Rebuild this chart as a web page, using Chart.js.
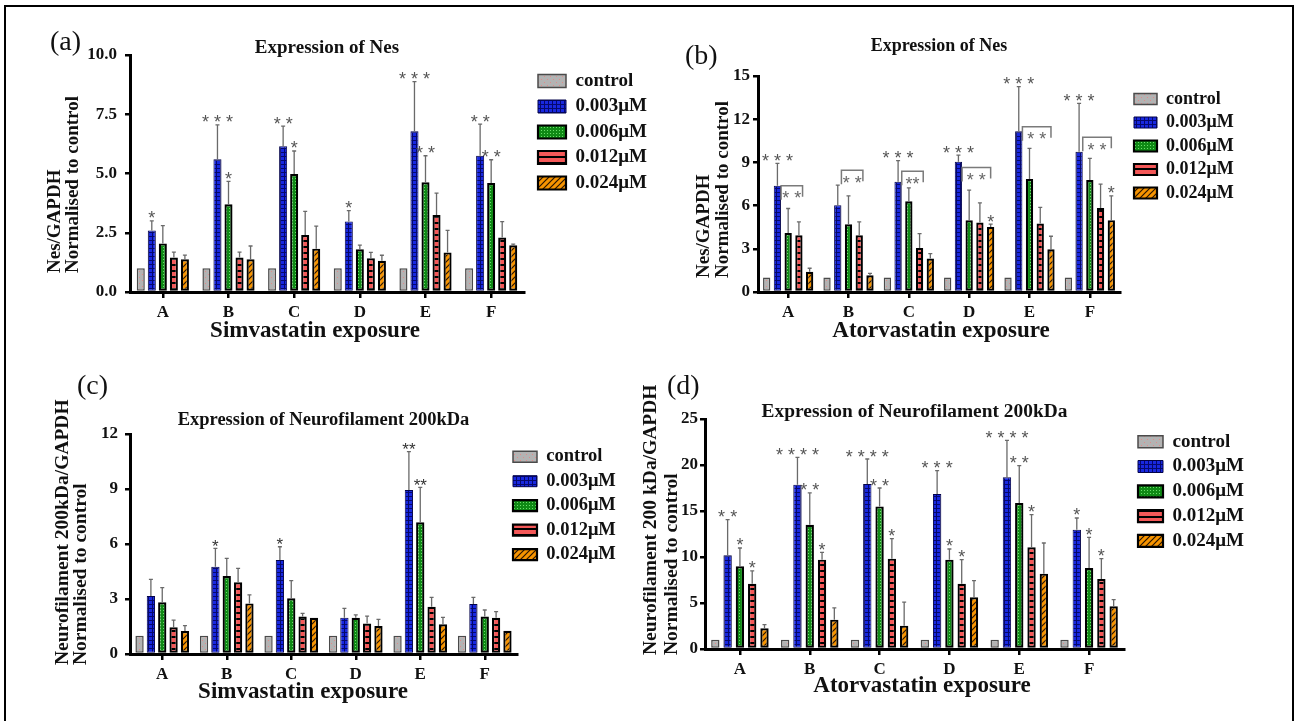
<!DOCTYPE html>
<html><head><meta charset="utf-8">
<script src="https://cdn.jsdelivr.net/npm/chart.js@4.4.1/dist/chart.umd.min.js"></script>
<style>
html,body{margin:0;padding:0;background:#fff;}
#wrap{position:relative;width:1295px;height:721px;overflow:hidden;background:#fff;}
#frame{position:absolute;left:4px;top:5px;width:1290px;height:760px;border:2.5px solid #000;box-sizing:border-box;}
canvas{position:absolute;left:0;top:0;}
</style></head><body>
<div id="wrap"><div id="frame"></div>
<canvas id="ca" width="1295" height="721"></canvas>
<canvas id="cb" width="1295" height="721"></canvas>
<canvas id="cc" width="1295" height="721"></canvas>
<canvas id="cd" width="1295" height="721"></canvas>
</div>
<script>
// ---------- DATA ----------
const categories = ['A','B','C','D','E','F'];
const seriesNames = ['control','0.003μM','0.006μM','0.012μM','0.024μM'];
const none = ['','','','','',''];
const zeroErr = [0,0,0,0,0,0];

// (a) Simvastatin – Nes
const simNesTicks = ['0.0','2.5','5.0','7.5','10.0'];
const simNesControl = [1,1,1,1,1,1];
const simNes003 = [2.6,5.6,6.15,2.97,6.78,5.75];
const simNes006 = [2.05,3.7,4.98,1.8,4.63,4.6];
const simNes012 = [1.46,1.46,2.4,1.42,3.25,2.3];
const simNes024 = [1.38,1.38,1.83,1.32,1.67,1.97];
const simNes003Err = [0.4,1.45,0.85,0.46,2.1,1.33];
const simNes006Err = [0.75,0.97,0.97,0.18,1.12,0.98];
const simNes012Err = [0.22,0.22,1.0,0.25,0.92,0.67];
const simNes024Err = [0.18,0.56,0.95,0.23,0.93,0.05];
const simNesStars003 = ['*','* * *','* *','*','* * *','* *'];
const simNesStars006 = ['','*','*','','* *','* *'];

// (b) Atorvastatin – Nes
const atorNesTicks = ['0','3','6','9','12','15'];
const atorNesControl = [1,1,1,1,1,1];
const atorNes003 = [7.37,6.03,7.65,9.04,11.17,9.74];
const atorNes006 = [4.1,4.71,6.3,4.99,7.84,7.77];
const atorNes012 = [3.94,3.94,3.06,4.82,4.75,5.84];
const atorNes024 = [1.4,1.16,2.32,4.52,2.97,4.99];
const atorNes003Err = [1.56,1.39,1.48,0.46,3.09,3.36];
const atorNes006Err = [1.7,1.97,0.93,2.08,2.13,1.51];
const atorNes012Err = [0.93,0.93,1.0,1.37,1.12,1.65];
const atorNes024Err = [0.25,0.14,0.35,0.19,0.9,1.69];
const atorNesStars003 = ['* * *','','* * *','* * *','* * *','* * *'];
const atorNesStars024 = ['','','','*','','*'];
const atorNesBracketLevel = [7.37,8.46,8.39,8.65,11.47,10.74];
const atorNesBracketTo = [3,3,3,4,4,4];
const atorNesBracketStars = ['* *','* *','**','* *','* *','* *'];

// (c) Simvastatin – Neurofilament 200kDa
const simNfTicks = ['0','3','6','9','12'];
const simNfControl = [1,1,1,1,1,1];
const simNf003 = [3.16,4.76,5.13,1.98,8.95,2.73];
const simNf006 = [2.82,4.25,3.04,1.98,7.18,2.04];
const simNf012 = [1.46,3.91,2.04,1.67,2.58,1.98];
const simNf024 = [1.25,2.76,1.98,1.53,1.62,1.27];
const simNf003Err = [0.91,1.0,0.72,0.51,2.09,0.36];
const simNf006Err = [0.8,0.97,0.96,0.15,1.91,0.36];
const simNf012Err = [0.39,0.76,0.18,0.4,0.51,0.33];
const simNf024Err = [0.3,0.46,0,0.36,0.38,0];
const simNfStars003 = ['','*','*','','**',''];
const simNfStars006 = ['','','','','**',''];

// (d) Atorvastatin – Neurofilament 200kDa
const atorNfTicks = ['0','5','10','15','20','25'];
const atorNfControl = [1,1,1,1,1,1];
const atorNf003 = [10.2,17.86,17.93,16.85,18.66,12.97];
const atorNf006 = [8.99,13.5,15.5,9.71,15.87,8.8];
const atorNf012 = [7.1,9.71,9.82,7.1,11.05,7.6];
const atorNf024 = [2.25,3.19,2.54,5.62,8.19,4.64];
const atorNf003Err = [3.86,2.97,2.72,2.53,4.02,1.27];
const atorNf006Err = [1.99,3.46,2.0,1.16,4.06,3.34];
const atorNf012Err = [1.4,0.79,2.18,2.61,3.55,2.22];
const atorNf024Err = [0.39,1.27,2.56,1.81,3.33,0.72];
const atorNfStars003 = ['* *','* * * *','* * * *','* * *','* * * *','*'];
const atorNfStars006 = ['*','* *','* *','*','* *','*'];
const atorNfStars012 = ['*','*','*','*','*','*'];

// ---------- STYLE ----------
const SERIF = '"Liberation Serif","Times New Roman",serif';
const SANS = '"Liberation Sans",Arial,sans-serif';
const W = 1295, H = 721, Y_AXIS_W = 60, X_AXIS_H = 40;

function tile(w, h, draw) {
  const c = document.createElement('canvas'); c.width = w; c.height = h;
  draw(c.getContext('2d'), w, h); return c;
}
const tiles = {
  control: tile(6,6,g=>{g.fillStyle='#b3b3b3';g.fillRect(0,0,6,6);g.fillStyle='#e28a8a';g.fillRect(1,1,1,1);g.fillRect(4,4,1,1);}),
  blue: tile(4,4,g=>{g.fillStyle='#1828e0';g.fillRect(0,0,4,4);g.fillStyle='#05086e';g.fillRect(0,0,4,1);g.fillRect(0,0,1,4);}),
  green: tile(3,3,g=>{g.fillStyle='#0f8a15';g.fillRect(0,0,3,3);g.fillStyle='#6ade6a';g.fillRect(1,1,1,1);}),
  red: tile(6,6,g=>{g.fillStyle='#f45858';g.fillRect(0,0,6,6);g.fillStyle='#000';g.fillRect(0,0,6,2);}),
  orange: tile(6,6,g=>{g.fillStyle='#f79400';g.fillRect(0,0,6,6);g.strokeStyle='#2a1500';g.lineWidth=1.2;g.beginPath();
    g.moveTo(0,6);g.lineTo(6,0);g.moveTo(-3,3);g.lineTo(3,-3);g.moveTo(3,9);g.lineTo(9,3);g.stroke();})
};

const panels = [
  { canvasId:'ca', title:'Expression of Nes', label:'(a)', yTitle:['Nes/GAPDH','Normalised to control'], xTitle:'Simvastatin exposure',
    ticks: simNesTicks,
    values:[simNesControl,simNes003,simNes006,simNes012,simNes024],
    errs:[zeroErr,simNes003Err,simNes006Err,simNes012Err,simNes024Err],
    stars:[none,simNesStars003,simNesStars006,none,none], brackets:null,
    geo:{area:{l:130,r:524,t:55,b:292}, titleY:48, titleSize:19, label:{x:50,y:43},
      yT:{xs:[55,73],y0:273,size:19}, xT:{x:315,base:337,size:23},
      legend:{x:538,y:81,font:19,boxW:28,boxH:13,pad:6.5}, tickSize:17, catSize:17, tickPad:8,
      cat:0.84, bar:0.73, starFont:18, starColor:'#555'} },
  { canvasId:'cb', title:'Expression of Nes', label:'(b)', yTitle:['Nes/GAPDH','Normalised to control'], xTitle:'Atorvastatin exposure',
    ticks: atorNesTicks,
    values:[atorNesControl,atorNes003,atorNes006,atorNes012,atorNes024],
    errs:[zeroErr,atorNes003Err,atorNes006Err,atorNes012Err,atorNes024Err],
    stars:[none,atorNesStars003,none,none,atorNesStars024],
    brackets:{level:atorNesBracketLevel,to:atorNesBracketTo,text:atorNesBracketStars},
    geo:{area:{l:758,r:1120,t:76,b:292}, titleY:46, titleSize:18, label:{x:685,y:57},
      yT:{xs:[704,723],y0:278,size:19}, xT:{x:941,base:337,size:23},
      legend:{x:1134,y:99,font:18,boxW:23,boxH:11,pad:5.5}, tickSize:17, catSize:17, tickPad:3,
      cat:0.89, bar:0.68, starFont:18, starColor:'#555'} },
  { canvasId:'cc', title:'Expression of Neurofilament 200kDa', label:'(c)', yTitle:['Neurofilament 200kDa/GAPDH','Normalised to control'], xTitle:'Simvastatin exposure',
    ticks: simNfTicks,
    values:[simNfControl,simNf003,simNf006,simNf012,simNf024],
    errs:[zeroErr,simNf003Err,simNf006Err,simNf012Err,simNf024Err],
    stars:[none,simNfStars003,simNfStars006,none,none], brackets:null,
    geo:{area:{l:130,r:517,t:434,b:654}, titleY:420, titleSize:18.5, label:{x:77,y:387},
      yT:{xs:[63,81],y0:665,size:19.5}, xT:{x:303,base:698,size:23},
      legend:{x:513,y:456.7,font:18.5,boxW:24,boxH:11,pad:6}, tickSize:17, catSize:17, tickPad:7,
      cat:0.88, bar:0.73, starFont:17, starColor:'#333'} },
  { canvasId:'cd', title:'Expression of Neurofilament 200kDa', label:'(d)', yTitle:['Neurofilament 200 kDa/GAPDH','Normalised to control'], xTitle:'Atorvastatin exposure',
    ticks: atorNfTicks,
    values:[atorNfControl,atorNf003,atorNf006,atorNf012,atorNf024],
    errs:[zeroErr,atorNf003Err,atorNf006Err,atorNf012Err,atorNf024Err],
    stars:[none,atorNfStars003,atorNfStars006,atorNfStars012,none], brackets:null,
    geo:{area:{l:705,r:1124,t:419,b:649}, titleY:411.7, titleSize:19.4, label:{x:667,y:387},
      yT:{xs:[651,672],y0:655,size:19.5}, xT:{x:922,base:692,size:23},
      legend:{x:1138,y:441.7,font:19,boxW:25,boxH:12,pad:5.8}, tickSize:17, catSize:17, tickPad:2,
      cat:0.88, bar:0.68, starFont:18, starColor:'#555'} }
];

function buildPanel(p) {
  const canvas = document.getElementById(p.canvasId);
  const ctx = canvas.getContext('2d');
  const g = p.geo;
  const pat = k => ctx.createPattern(tiles[k], 'repeat');
  const styles = [
    {bg:pat('control'), bc:'#4a4a4a', bw:1.5},
    {bg:pat('blue'), bc:'#03034a', bw:1},
    {bg:pat('green'), bc:'#000', bw:2.2},
    {bg:pat('red'), bc:'#000', bw:2.2},
    {bg:pat('orange'), bc:'#000', bw:2.2}
  ];
  const datasets = p.values.map((vals, k) => ({
    label: seriesNames[k], data: vals,
    backgroundColor: styles[k].bg, borderColor: styles[k].bc, borderWidth: styles[k].bw,
    borderSkipped: false, categoryPercentage: g.cat, barPercentage: g.bar
  }));

  const placer = {
    id: 'placer',
    beforeDraw(chart) {
      const ca = chart.chartArea;
      const t = chart.titleBlock;
      if (t) { t.left = ca.left; t.right = ca.right; t.width = ca.right - ca.left;
        t.top = g.titleY - g.titleSize / 2; t.height = g.titleSize; t.bottom = t.top + g.titleSize; }
      const L = chart.legend, lg = g.legend;
      if (L) { L.left = lg.x - lg.pad; L.top = lg.y - lg.font / 2 - lg.pad;
        L.width = 240; L.height = 220; L.right = L.left + 240; L.bottom = L.top + 220; }
    }
  };

  const annot = {
    id: 'annot',
    afterDatasetsDraw(chart) {
      const c = chart.ctx, ys = chart.scales.y;
      c.save();
      p.values.forEach((vals, k) => {
        const meta = chart.getDatasetMeta(k);
        vals.forEach((v, j) => {
          const bar = meta.data[j];
          const e = p.errs[k][j];
          let yTop = bar.y;
          if (e > 0) {
            const yE = ys.getPixelForValue(v + e);
            c.strokeStyle = '#6a6a6a'; c.lineWidth = 1.3;
            c.beginPath(); c.moveTo(bar.x, bar.y); c.lineTo(bar.x, yE);
            c.moveTo(bar.x - 2, yE); c.lineTo(bar.x + 2, yE); c.stroke();
            yTop = yE;
          }
          const s = p.stars[k][j];
          if (s) {
            c.fillStyle = g.starColor; c.font = g.starFont + 'px ' + SANS;
            c.textAlign = 'center'; c.textBaseline = 'alphabetic';
            c.fillText(s, bar.x, yTop + 3.5);
          }
        });
      });
      if (p.brackets) {
        const blue = chart.getDatasetMeta(1);
        p.brackets.level.forEach((lv, j) => {
          const b = blue.data[j];
          const to = p.brackets.to[j];
          const tgt = chart.getDatasetMeta(to).data[j];
          const xL = b.x + b.width / 2;
          const xR = to === 3 ? tgt.x + tgt.width / 2 : tgt.x;
          const yB = ys.getPixelForValue(lv);
          c.strokeStyle = '#7a7a7a'; c.lineWidth = 1.5;
          c.beginPath(); c.moveTo(xL, yB + 14); c.lineTo(xL, yB); c.lineTo(xR, yB); c.lineTo(xR, yB + 11); c.stroke();
          c.fillStyle = '#666'; c.font = g.starFont + 'px ' + SANS; c.textAlign = 'center'; c.textBaseline = 'alphabetic';
          c.fillText(p.brackets.text[j], (xL + xR) / 2, yB + 18.5);
        });
      }
      c.restore();
    }
  };

  const texts = {
    id: 'texts',
    afterDraw(chart) {
      const c = chart.ctx;
      c.save(); c.fillStyle = '#111';
      c.font = '28px ' + SERIF; c.textAlign = 'left'; c.textBaseline = 'middle';
      c.fillText(p.label, g.label.x, g.label.y);
      c.font = 'bold ' + g.yT.size + 'px ' + SERIF;
      p.yTitle.forEach((line, i) => {
        c.save(); c.translate(g.yT.xs[i], g.yT.y0); c.rotate(-Math.PI / 2);
        c.textAlign = 'left'; c.textBaseline = 'middle'; c.fillText(line, 0, 0); c.restore();
      });
      c.font = 'bold ' + g.xT.size + 'px ' + SERIF; c.textAlign = 'center'; c.textBaseline = 'alphabetic';
      c.fillText(p.xTitle, g.xT.x, g.xT.base);
      c.restore();
    }
  };

  const tickMax = parseFloat(p.ticks[p.ticks.length - 1]);
  return new Chart(canvas, {
    type: 'bar',
    data: { labels: categories, datasets },
    options: {
      responsive: false, animation: false, devicePixelRatio: 1,
      events: [],
      layout: { padding: { left: g.area.l - Y_AXIS_W, right: W - g.area.r, top: g.area.t - g.titleSize, bottom: H - g.area.b - X_AXIS_H } },
      plugins: {
        legend: { display: true, position: 'chartArea', align: 'start',
          labels: { boxWidth: g.legend.boxW, boxHeight: g.legend.boxH, padding: g.legend.pad, color: '#111',
            font: { family: SERIF, weight: 'bold', size: g.legend.font } } },
        title: { display: true, text: p.title, color: '#111', padding: 0,
          font: { family: SERIF, weight: 'bold', size: g.titleSize, lineHeight: 1 } },
        tooltip: { enabled: false }
      },
      scales: {
        x: {
          offset: true,
          afterFit: s => { s.height = X_AXIS_H; },
          ticks: { color: '#111', font: { family: SERIF, weight: 'bold', size: g.catSize }, padding: 4, maxRotation: 0 },
          grid: { display: true, drawOnChartArea: false, drawTicks: true, tickLength: 6, color: '#000', lineWidth: 2.5, offset: false },
          border: { display: true, color: '#000', width: 3 }
        },
        y: {
          min: 0, max: tickMax,
          afterFit: s => { s.width = Y_AXIS_W; },
          afterBuildTicks: s => { s.ticks = p.ticks.map(t => ({ value: parseFloat(t) })); },
          ticks: { callback: (v, i) => p.ticks[i], color: '#111', font: { family: SERIF, weight: 'bold', size: g.tickSize }, padding: g.tickPad },
          grid: { display: true, drawOnChartArea: false, drawTicks: true, tickLength: 5, color: '#000', lineWidth: 2.5 },
          border: { display: true, color: '#000', width: 3 }
        }
      }
    },
    plugins: [placer, annot, texts]
  });
}

panels.forEach(buildPanel);
</script>
</body></html>
